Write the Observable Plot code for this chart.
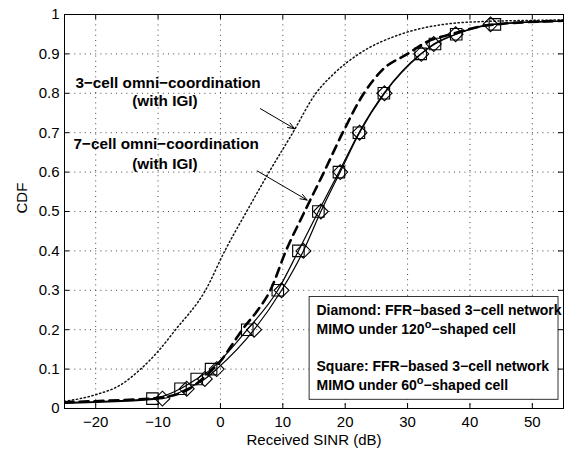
<!DOCTYPE html>
<html><head><meta charset="utf-8">
<script src="https://cdn.jsdelivr.net/npm/d3@7"></script>
<script src="https://cdn.jsdelivr.net/npm/@observablehq/plot@0.6"></script>
<style>html,body{margin:0;padding:0;background:#fff}#chart{position:absolute;left:0;top:0}</style>
</head><body><div id="chart"></div>
<script>
// ---- data ----
const xTicks = [-20, -10, 0, 10, 20, 30, 40, 50];
const yTicks = [0, 0.1, 0.2, 0.3, 0.4, 0.5, 0.6, 0.7, 0.8, 0.9, 1];

const diamondSINR = [-25, -9.3, -5.4, -2.5, -0.6, 5.4, 9.8, 13.3, 16.1, 19.2, 22.3, 26.3, 32.2, 34.2, 37.7, 43.3, 55];
const diamondCDF  = [0.013, 0.025, 0.05, 0.075, 0.1, 0.2, 0.3, 0.4, 0.5, 0.6, 0.7, 0.8, 0.9, 0.925, 0.95, 0.975, 0.983];
const squareSINR  = [-25, -10.9, -6.4, -3.8, -1.5, 4.3, 9.2, 12.5, 15.7, 19.0, 22.2, 26.2, 32.1, 34.4, 37.8, 44.0, 55];
const squareCDF   = [0.015, 0.025, 0.05, 0.075, 0.1, 0.2, 0.3, 0.4, 0.5, 0.6, 0.7, 0.8, 0.9, 0.925, 0.95, 0.975, 0.983];
const omni7SINR   = [-25, -18, -10, -5, -2, 0, 2, 3.5, 6, 8, 10.5, 13.5, 16.6, 19.6, 23, 26, 30, 33, 37, 43, 55];
const omni7CDF    = [0.016, 0.02, 0.027, 0.05, 0.088, 0.12, 0.165, 0.2, 0.25, 0.3, 0.4, 0.5, 0.6, 0.7, 0.8, 0.86, 0.9, 0.93, 0.95, 0.973, 0.984];
const omni3SINR   = [-25, -20, -16, -12.8, -10, -7.2, -2.4, 0.7, 4.2, 7.8, 11.6, 15.3, 18.2, 22.2, 28.9, 35.4, 42, 55];
const omni3CDF    = [0.018, 0.035, 0.06, 0.1, 0.145, 0.2, 0.3, 0.4, 0.5, 0.6, 0.7, 0.8, 0.85, 0.9, 0.95, 0.974, 0.982, 0.986];

const noteText = ["3−cell omni−coordination", "(with IGI)", "7−cell omni−coordination", "(with IGI)"];
const noteX = [-8.4, -8.9, -8.7, -8.9];
const noteY = [0.826, 0.78, 0.672, 0.621];
const arrowX1 = [6.4, 5.9], arrowY1 = [0.761, 0.603];
const arrowX2 = [11.9, 13.9], arrowY2 = [0.71, 0.529];

const legendBoxX = [14.3, 54.2], legendBoxY = [0.022, 0.283];
const legendText = ["Diamond: FFR−based 3−cell network", "MIMO under 120°−shaped cell", "Square: FFR−based 3−cell network", "MIMO under 60°−shaped cell"];
const legendX = 15.4;
const legendY = [0.249, 0.2, 0.107, 0.058];

// ---- tables ----
const toRows = (xs, ys) => xs.map((x, i) => ({x, y: ys[i]}));
const diamond = toRows(diamondSINR, diamondCDF);
const square = toRows(squareSINR, squareCDF);
const omni7 = toRows(omni7SINR, omni7CDF);
const omni3 = toRows(omni3SINR, omni3CDF);
const notes = noteText.map((t, i) => ({t, x: noteX[i], y: noteY[i]}));
const arrows = arrowX1.map((d, i) => ({x1: d, y1: arrowY1[i], x2: arrowX2[i], y2: arrowY2[i]}));
const legendRows = legendText.map((t, i) => ({t, x: legendX, y: legendY[i]}));

const FONT = "Liberation Sans, Arial, Helvetica, sans-serif";
const W = 565, H = 449, ML = 64, MR = 2, MT = 14, MB = 41;
const PW = W - ML - MR, PH = H - MT - MB;

const chart = Plot.plot({
  width: W, height: H,
  marginLeft: ML, marginRight: MR, marginTop: MT, marginBottom: MB,
  style: {fontFamily: FONT, fontSize: "15px", color: "black", background: "white"},
  x: {domain: [-25, 55]},
  y: {domain: [0, 1]},
  marks: [
    Plot.gridX(xTicks, {stroke: "#444", strokeOpacity: 1, strokeWidth: 1, strokeDasharray: "1,4.2"}),
    Plot.gridY(yTicks, {stroke: "#444", strokeOpacity: 1, strokeWidth: 1, strokeDasharray: "1,4.2"}),
    Plot.line(omni3, {x: "x", y: "y", curve: "monotone-x", stroke: "#111", strokeWidth: 1.5, strokeDasharray: "1.3,2.7", clip: true}),
    Plot.line(omni7, {x: "x", y: "y", curve: "monotone-x", stroke: "black", strokeWidth: 2.6, strokeDasharray: "9,6", clip: true}),
    Plot.line(square, {x: "x", y: "y", curve: "monotone-x", stroke: "black", strokeWidth: 1.2, clip: true}),
    Plot.line(diamond, {x: "x", y: "y", curve: "monotone-x", stroke: "black", strokeWidth: 1.2, clip: true}),
    Plot.dot(square.slice(1, -1), {x: "x", y: "y", symbol: "square", r: 6.5, stroke: "black", strokeWidth: 1.1, fill: "none"}),
    Plot.dot(diamond.slice(1, -1), {x: "x", y: "y", symbol: "diamond2", r: 6.7, stroke: "black", strokeWidth: 1.1, fill: "none"}),
    Plot.rect([{}], {x1: legendBoxX[0], x2: legendBoxX[1], y1: legendBoxY[0], y2: legendBoxY[1], fill: "white", stroke: "#333", strokeWidth: 1}),
    Plot.text(legendRows, {x: "x", y: "y", text: "t", textAnchor: "start", fontWeight: "bold", fontSize: 14, fill: "black", fontFamily: FONT}),
    Plot.text(notes, {x: "x", y: "y", text: "t", textAnchor: "middle", fontWeight: "bold", fontSize: 15.3, fill: "black", fontFamily: FONT}),
    Plot.arrow(arrows, {x1: "x1", y1: "y1", x2: "x2", y2: "y2", stroke: "black", strokeWidth: 1, headLength: 11, headAngle: 40}),
    Plot.frame({stroke: "black", strokeWidth: 1}),
    // inward ticks
    Plot.tickX(xTicks, {x: d => d, insetTop: PH - 5, stroke: "black"}),
    Plot.tickX(xTicks, {x: d => d, insetBottom: PH - 5, stroke: "black"}),
    Plot.tickY(yTicks, {y: d => d, insetRight: PW - 5, stroke: "black"}),
    Plot.tickY(yTicks, {y: d => d, insetLeft: PW - 5, stroke: "black"}),
    Plot.axisX(xTicks, {tickSize: 0, tickPadding: 8, fontSize: 15, label: null, fill: "black",
      tickFormat: d => d < 0 ? "−" + (-d) : String(d)}),
    Plot.axisY(yTicks, {tickSize: 0, tickPadding: 5, fontSize: 15, label: null, fill: "black",
      tickFormat: d => String(d)}),
    Plot.text(["Received SINR (dB)"], {frameAnchor: "bottom", dy: 32, text: d => d, fontSize: 15, fill: "black", lineAnchor: "middle"}),
    Plot.text(["CDF"], {frameAnchor: "left", dx: -42, dy: 2, rotate: -90, text: d => d, fontSize: 15, fill: "black", lineAnchor: "middle"})
  ]
});

// superscript "o" for the degree marks in the legend
d3.select(chart).selectAll("text").each(function() {
  const el = this;
  const target = el.querySelectorAll("tspan").length === 1 ? el.querySelector("tspan") : el;
  const s = target.textContent;
  if (!s.includes("°")) return;
  const [a, b] = s.split("°");
  target.textContent = "";
  const ns = "http://www.w3.org/2000/svg";
  const t1 = document.createElementNS(ns, "tspan"); t1.textContent = a;
  const t2 = document.createElementNS(ns, "tspan"); t2.textContent = "o"; t2.setAttribute("dy", "-6"); t2.setAttribute("font-size", "11");
  const t3 = document.createElementNS(ns, "tspan"); t3.textContent = b; t3.setAttribute("dy", "6");
  target.appendChild(t1); target.appendChild(t2); target.appendChild(t3);
});

document.getElementById("chart").appendChild(chart);
</script>
</body></html>
